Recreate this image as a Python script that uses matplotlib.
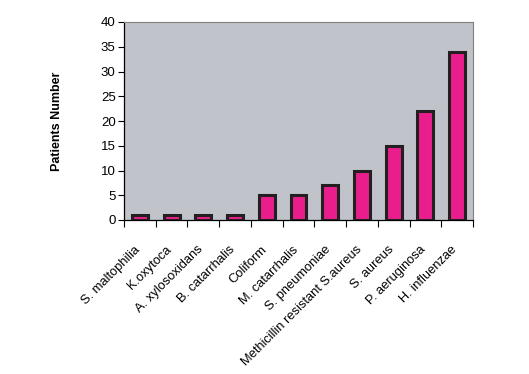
import numpy as np
import matplotlib
matplotlib.use("Agg")
import matplotlib.pyplot as plt
from matplotlib.transforms import ScaledTranslation

plt.rcParams["font.family"] = ["Liberation Sans", "DejaVu Sans"]

organisms = ["S. maltophilia", "K.oxytoca", "A. xylosoxidans", "B. catarrhalis",
             "Coliform", "M. catarrhalis", "S. pneumoniae",
             "Methicillin resistant S.aureus", "S. aureus", "P. aeruginosa",
             "H. influenzae"]
patients = [1, 1, 1, 1, 5, 5, 7, 10, 15, 22, 34]

fig = plt.figure(figsize=(5.29, 3.74), dpi=100)
ax = fig.add_axes([124 / 529, 1 - 220 / 374, 349 / 529, 198 / 374])
ax.set_facecolor("#c0c3c9")

x = np.arange(len(organisms))
ax.bar(x, patients, width=0.5, color="#e91e8c", edgecolor="#231f20", linewidth=2.2, zorder=3)

ax.set_xlim(-0.5, len(organisms) - 0.5)
ax.set_ylim(0, 40)
ax.set_yticks(range(0, 41, 5))
ax.tick_params(axis="y", labelsize=9.5, length=4, width=0.8, pad=2)

# category boundary ticks, labels at the centres
ax.set_xticks(np.arange(-0.5, len(organisms)), minor=False)
ax.set_xticklabels([])
ax.set_xticks(x, minor=True)
ax.set_xticklabels(organisms, minor=True, rotation=45, ha="right",
                   rotation_mode="anchor", fontsize=9.3)
ax.tick_params(axis="x", which="major", length=5, width=0.8)
ax.tick_params(axis="x", which="minor", length=0, pad=17)
shift = ScaledTranslation(-6 / 100, 0, fig.dpi_scale_trans)
for lab in ax.get_xticklabels(minor=True):
    lab.set_transform(lab.get_transform() + shift)

for s in ["top", "right"]:
    ax.spines[s].set_color("#808080")
for s in ["left", "bottom"]:
    ax.spines[s].set_color("black")
    ax.spines[s].set_linewidth(0.9)

ax.set_ylabel("Patients Number", fontsize=9, fontweight="bold", labelpad=27)

fig.savefig("out.png", dpi=100)
